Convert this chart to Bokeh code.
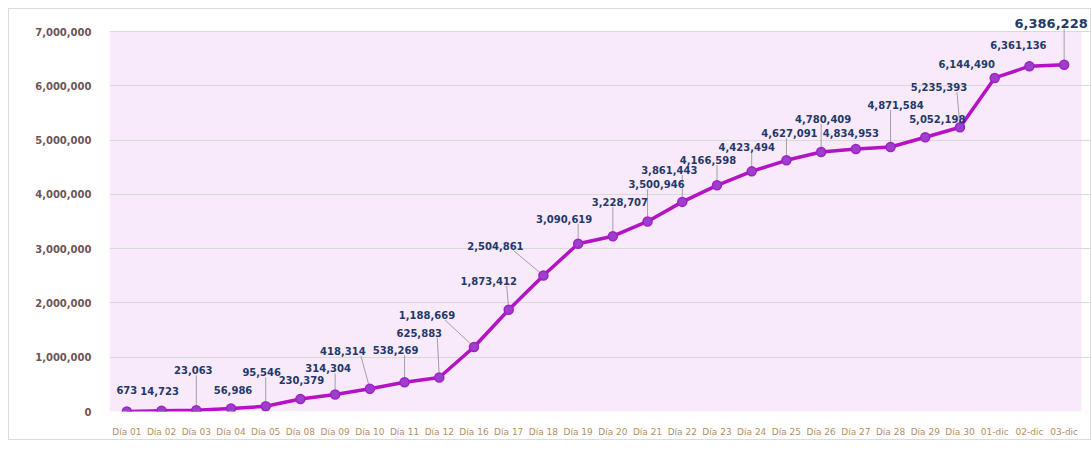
import numpy as np
from bokeh.plotting import figure
from bokeh.models import (ColumnDataSource, LabelSet, FixedTicker, NumeralTickFormatter,
                          Range1d, BoxAnnotation)
from bokeh.core.properties import value
from bokeh.embed import file_html
from bokeh.resources import INLINE

categories = ["Día 01", "Día 02", "Día 03", "Día 04", "Día 05", "Día 08", "Día 09",
              "Día 10", "Día 11", "Día 12", "Día 16", "Día 17", "Día 18", "Día 19",
              "Día 20", "Día 21", "Día 22", "Día 23", "Día 24", "Día 25", "Día 26",
              "Día 27", "Día 28", "Día 29", "Día 30", "01-dic", "02-dic", "03-dic"]
values = [673, 14723, 23063, 56986, 95546, 230379, 314304, 418314, 538269, 625883,
          1188669, 1873412, 2504861, 3090619, 3228707, 3500946, 3861443, 4166598,
          4423494, 4627091, 4780409, 4834953, 4871584, 5052198, 5235393, 6144490,
          6361136, 6386228]
value_labels = [f"{v:,}" for v in values]
y_ticks = [0, 1000000, 2000000, 3000000, 4000000, 5000000, 6000000, 7000000]

# label placement (pixel offsets of label centre from its point, y up)
label_dx = [0, -2, -3, 2, -4, 1, -7, -27, -9, -20, -47, -20, -48, -14, 7, 9, -13, -9,
            -5, 3, 2, -5, 5, 12, -21, -28, -11, -13]
label_dy = [22, 21, 41, 19, 35, 20, 27, 39, 33, 46, 33, 30, 31, 26, 35, 38, 33, 26,
            25, 28, 34, 17, 43, 19, 41, 15, 22, 42]
has_leader = [0, 0, 1, 0, 1, 0, 1, 1, 1, 1, 1, 1, 1, 1, 1, 1, 1, 1,
              1, 1, 1, 0, 1, 0, 1, 0, 0, 1]

W, H = 1083, 432
ML, MR, MT, MB = 100, 0, 0, 30
frame_w = W - ML - MR
frame_h = H - MT - MB
n = len(categories)
ymax = 7000000
data_w = 972        # pixel width of the category band
data_h = 380        # pixel height of 0..7,000,000
px_x = data_w / n
px_y = data_h / ymax
x_end = frame_w / px_x
y_end = frame_h / px_y

xs = np.arange(n) + 0.5

p = figure(width=W, height=H, output_backend="svg", toolbar_location=None,
           x_range=Range1d(0, x_end), y_range=Range1d(0, y_end),
           min_border_left=ML, min_border_right=MR, min_border_top=MT, min_border_bottom=MB,
           background_fill_color="white", border_fill_color="white",
           outline_line_color=None)
p.styles = {"margin": "8px 0 0 8px", "border": "1px solid #dcdcdc",
            "box-sizing": "border-box"}

p.add_layout(BoxAnnotation(left=0, right=n, bottom=0, top=ymax, fill_color="#f8eafa",
                           fill_alpha=1, line_color=None, level="image"))

p.xgrid.grid_line_color = None
p.ygrid.ticker = FixedTicker(ticks=y_ticks)
p.ygrid.grid_line_color = "#d9d9d9"
p.ygrid.grid_line_width = 1
p.yaxis.ticker = FixedTicker(ticks=y_ticks)
p.yaxis.formatter = NumeralTickFormatter(format="0,0")
p.yaxis.axis_line_color = None
p.yaxis.major_tick_line_color = None
p.yaxis.minor_tick_line_color = None
p.yaxis.major_label_standoff = 12
p.yaxis.major_label_text_font = "DejaVu Sans"
p.yaxis.major_label_text_font_style = "bold"
p.yaxis.major_label_text_font_size = "10px"
p.yaxis.major_label_text_color = "#6d5555"

p.xaxis.ticker = FixedTicker(ticks=list(xs))
p.xaxis.major_label_overrides = {float(x): c for x, c in zip(xs, categories)}
p.xaxis.axis_line_color = None
p.xaxis.major_tick_line_color = None
p.xaxis.minor_tick_line_color = None
p.xaxis.major_label_standoff = 9
p.xaxis.major_label_text_font = "DejaVu Sans"
p.xaxis.major_label_text_font_size = "9px"
p.xaxis.major_label_text_color = "#b48e62"

# leader lines
vals = np.array(values, dtype=float)
ldx = np.array(label_dx, dtype=float)
ldy = np.array(label_dy, dtype=float)
lead = np.array(has_leader, dtype=bool)
sx = ldx - np.clip(ldx, -18, 18)
sy = ldy - 6
dist = np.hypot(sx, sy)
ex = sx / dist * 5
ey = sy / dist * 5
seg = ColumnDataSource(dict(
    x0=(xs + sx / px_x)[lead], y0=(vals + sy / px_y)[lead],
    x1=(xs + ex / px_x)[lead], y1=(vals + ey / px_y)[lead]))
p.segment("x0", "y0", "x1", "y1", source=seg, line_color="#a0a0a0", line_width=1)

src = ColumnDataSource(dict(x=xs, y=vals, lab=value_labels, dx=ldx, dy=ldy - 5,
                            size=["10px"] * (n - 1) + ["13px"]))
p.line("x", "y", source=src, line_color="#b512c6", line_width=3.5)
p.scatter("x", "y", source=src, size=9, fill_color="#9b3fcc", line_color="#a020c8",
          line_width=1.5)

labels = LabelSet(x="x", y="y", text="lab", x_offset="dx", y_offset="dy", source=src,
                  text_align="center", text_baseline="bottom",
                  text_font=value("DejaVu Sans"), text_font_style="bold",
                  text_font_size="size", text_color="#23396a")
p.add_layout(labels)

open("out.html", "w").write(file_html(p, INLINE))
